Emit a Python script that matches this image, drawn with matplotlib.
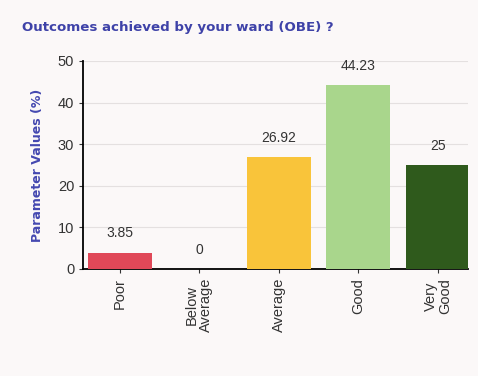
import matplotlib
matplotlib.use("Agg")
import matplotlib.pyplot as plt

categories = ["Poor", "Below\nAverage", "Average", "Good", "Very\nGood"]
values = [3.85, 0, 26.92, 44.23, 25]
value_labels = ["3.85", "0", "26.92", "44.23", "25"]
colors = ["#e04858", "#e04858", "#f9c43a", "#a9d68c", "#2f5a1c"]
yticks = [0, 10, 20, 30, 40, 50]

plt.rcParams['font.family'] = ['Liberation Sans', 'DejaVu Sans']
fig = plt.figure(figsize=(4.78, 3.76), dpi=100)
fig.patch.set_facecolor("#fbf8f8")
ax = fig.add_axes([0.174, 0.2846, 0.805, 0.5532])
ax.set_facecolor("#fbf8f8")

x = range(len(categories))
ax.bar(x, values, width=0.8, color=colors, zorder=3)
for i, (v, lab) in enumerate(zip(values, value_labels)):
    ax.text(i, v + 3, lab, ha="center", va="bottom", fontsize=10, color="#333333")

ax.set_xlim(-0.46, 4.38)
ax.set_ylim(0, 50)
ax.set_yticks(yticks)
ax.set_yticklabels([str(t) for t in yticks], fontsize=10.5, color="#333333")
ax.set_xticks(list(x))
ax.set_xticklabels(categories, rotation=90, fontsize=10.5, color="#222222", linespacing=1.0)
ax.yaxis.grid(True, color="#e4e0e0", linewidth=0.8, zorder=0)
for s in ["top", "right"]:
    ax.spines[s].set_visible(False)
ax.spines["left"].set_linewidth(1.3)
ax.spines["bottom"].set_linewidth(1.3)
ax.tick_params(axis="both", length=3, width=0.8, colors="#333333")
ax.set_ylabel("Parameter Values (%)", fontsize=9, fontweight="bold", color="#4448b0",
              labelpad=10, family="DejaVu Sans")

fig.text(0.046, 0.928, "Outcomes achieved by your ward (OBE) ?", fontsize=9.6, fontweight="bold",
         color="#3e42a8", ha="left", va="center", family="DejaVu Sans")

fig.savefig("out.png", dpi=100, facecolor=fig.get_facecolor())
